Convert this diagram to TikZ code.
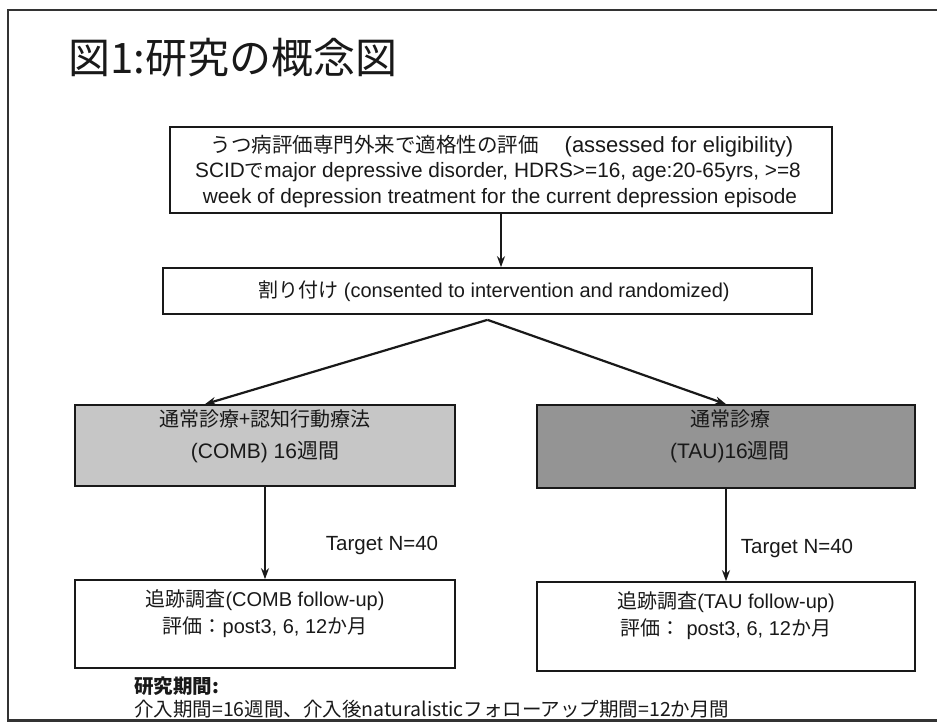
\documentclass[tikz,border=0pt]{standalone}
\usepackage{fontspec}
\setmainfont{Liberation Sans}
\newfontfamily\jp{Noto Sans CJK JP}
\usetikzlibrary{arrows.meta}
\definecolor{lightfill}{RGB}{198,198,198}
\definecolor{darkfill}{RGB}{148,148,148}
\definecolor{ink}{RGB}{25,25,25}
\begin{document}
\begin{tikzpicture}[x=1pt,y=-1pt,
  box/.style={draw=ink, line width=1.7pt, inner sep=0pt, align=center, text=ink},
  arr/.style={draw=ink, line width=2.2pt, -{Stealth[length=11pt,width=8pt]}},
  txt/.style={inner sep=0pt, align=center, text=ink},
  big/.style={font=\fontsize{20}{27}\selectfont},
  mid/.style={font=\fontsize{21}{32}\selectfont},
  small/.style={font=\fontsize{20.8}{27}\selectfont}]
\useasboundingbox (0,0) rectangle (937,722);
\draw[line width=2.8pt, black!80] (8,10) rectangle (965,720.5);
\node[txt, anchor=west, font=\fontsize{42}{42}\selectfont\jp] (title) at (68,58) {図1:研究の概念図};
% box 1
\node[box, minimum width=662pt, minimum height=86pt] (b1) at (501,170) {};
\node[txt] (b1a) at (502,146) {{\jp\fontsize{20.5}{27}\selectfont うつ病評価専門外来で適格性の評価}\hspace{26pt}{\fontsize{22}{27}\selectfont(assessed for eligibility)}};
\node[txt, small] (b1b) at (498,172) {SCID{\jp\fontsize{19.5}{27}\selectfont で}major depressive disorder, HDRS>=16, age:20-65yrs, >=8};
\node[txt, small] (b1c) at (500,198) {week of depression treatment for the current depression episode};
% box 2
\node[box, minimum width=649pt, minimum height=46pt] (b2) at (487.5,291) {};
\node[txt, big] (b2t) at (494,291) {{\jp 割り付け} (consented to intervention and randomized)};
% groups
\node[box, fill=lightfill, minimum width=380pt, minimum height=81pt] (g1) at (265,445.5) {};
\node[box, fill=darkfill, minimum width=378pt, minimum height=83pt] (g2) at (726,446.5) {};
\node[txt, mid] (g1t) at (265,436) {{\jp\fontsize{20}{32}\selectfont 通常診療+認知行動療法}\\(COMB) 16{\jp 週間}};
\node[txt, mid] (g2t) at (730,436) {{\jp\fontsize{20}{32}\selectfont 通常診療}\\(TAU)16{\jp 週間}};
% follow-up boxes
\node[box, minimum width=380pt, minimum height=88pt] (c1) at (265,624) {};
\node[box, minimum width=378pt, minimum height=89pt] (c2) at (726,626.5) {};
\node[txt, big] (c1t) at (265,614) {{\jp 追跡調査}(COMB follow-up)\\[0pt]{\jp 評価：}post3, 6, 12{\jp か月}};
\node[txt, big] (c2t) at (726,616) {{\jp 追跡調査}(TAU follow-up)\\[0pt]{\jp 評価：} post3, 6, 12{\jp か月}};
% target labels
\node[txt, font=\fontsize{20.5}{27}\selectfont] (t1) at (382,545) {Target N=40};
\node[txt, font=\fontsize{20.5}{27}\selectfont] (t2) at (797,548) {Target N=40};
% connectors
\draw[arr] (b1.south) -- (b1.south |- b2.north);
\coordinate (apex) at ([yshift=-5pt]b2.south);
\draw[arr] (apex) -- ([xshift=-60pt]g1.north);
\draw[arr] (apex) -- (g2.north);
\draw[arr] (g1.south) -- (c1.north);
\draw[arr] (g2.south) -- (c2.north);
% period text
\node[txt, anchor=west, font=\fontsize{19.5}{24}\selectfont\jp\bfseries] (p1) at (134,686) {研究期間:};
\node[txt, anchor=west, font=\fontsize{19.5}{24}\selectfont\jp] (p2) at (134,709) {介入期間=16週間、介入後naturalisticフォローアップ期間=12か月間};
\end{tikzpicture}
\end{document}
